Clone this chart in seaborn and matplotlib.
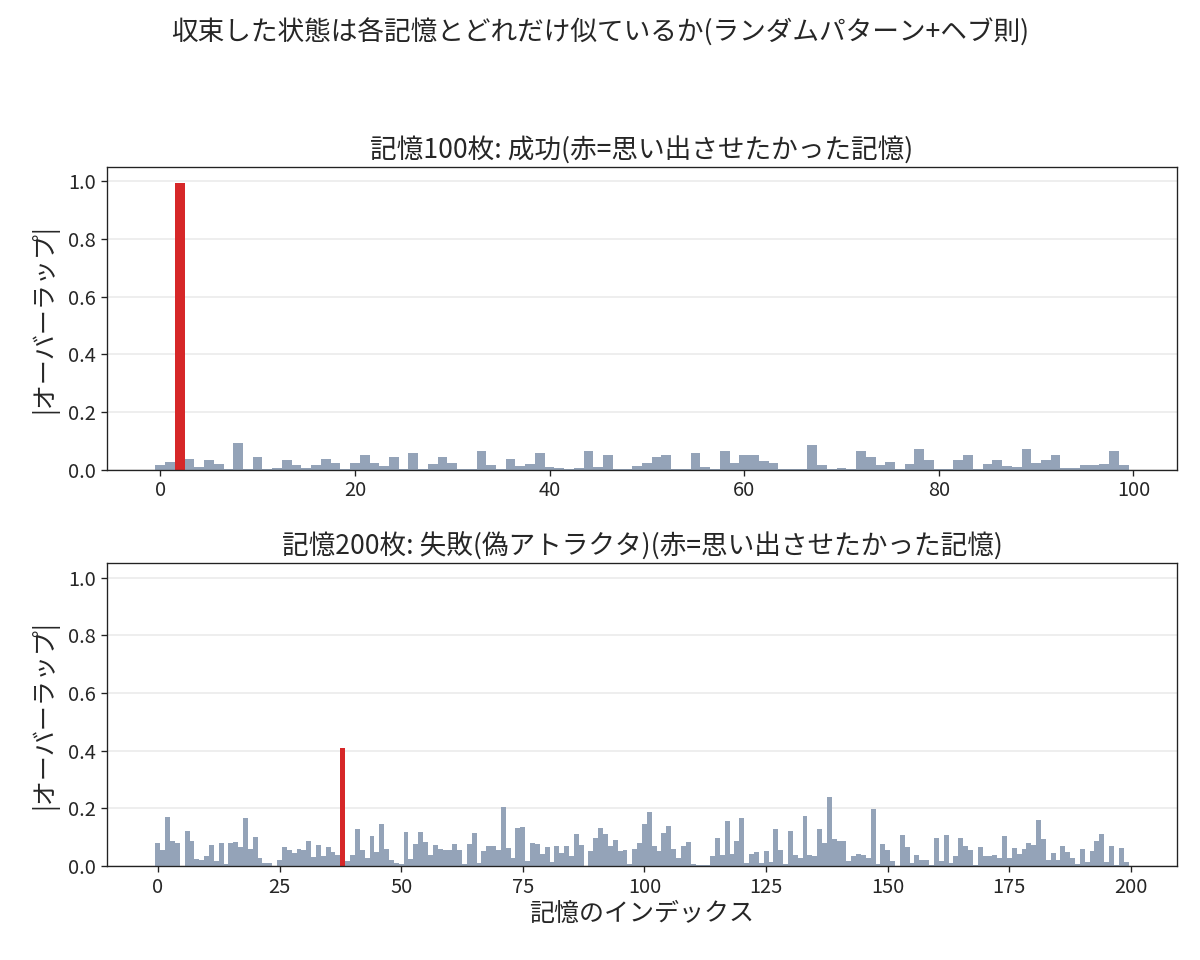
import numpy as np
import pandas as pd
import matplotlib
matplotlib.use("Agg")
import matplotlib.pyplot as plt
import seaborn as sns

# overlaps (100 memories, target index 2)
overlap_100 = [
    0.016, 0.028, 0.993, 0.038, 0.010, 0.035, 0.021, 0.003, 0.091, 0.001,
    0.042, 0.003, 0.007, 0.035, 0.017, 0.007, 0.017, 0.038, 0.024, 0.003,
    0.024, 0.049, 0.024, 0.014, 0.045, 0.001, 0.059, 0.003, 0.021, 0.042,
    0.024, 0.001, 0.003, 0.063, 0.017, 0.001, 0.038, 0.014, 0.021, 0.059,
    0.010, 0.007, 0.001, 0.007, 0.066, 0.010, 0.052, 0.001, 0.003, 0.014,
    0.024, 0.042, 0.049, 0.001, 0.001, 0.056, 0.010, 0.001, 0.066, 0.024,
    0.052, 0.049, 0.031, 0.024, 0.003, 0.003, 0.003, 0.084, 0.016, 0.001,
    0.007, 0.003, 0.066, 0.045, 0.017, 0.028, 0.003, 0.021, 0.073, 0.035,
    0.001, 0.003, 0.035, 0.049, 0.001, 0.021, 0.035, 0.014, 0.010, 0.070,
    0.024, 0.035, 0.052, 0.007, 0.007, 0.017, 0.017, 0.021, 0.066, 0.017,
]
target_100 = 2

# overlaps (200 memories, target index 38)
overlap_200 = [
    0.080, 0.054, 0.170, 0.087, 0.078, 0.001, 0.122, 0.087, 0.024, 0.021,
    0.035, 0.073, 0.017, 0.080, 0.007, 0.080, 0.083, 0.066, 0.167, 0.059,
    0.101, 0.028, 0.010, 0.010, 0.001, 0.021, 0.066, 0.056, 0.045, 0.059,
    0.056, 0.087, 0.031, 0.073, 0.035, 0.066, 0.049, 0.038, 0.410, 0.017,
    0.038, 0.128, 0.056, 0.028, 0.104, 0.049, 0.146, 0.059, 0.021, 0.010,
    0.007, 0.118, 0.024, 0.076, 0.118, 0.083, 0.038, 0.073, 0.059, 0.056,
    0.056, 0.076, 0.056, 0.007, 0.076, 0.115, 0.010, 0.052, 0.069, 0.069,
    0.056, 0.205, 0.063, 0.028, 0.132, 0.135, 0.017, 0.080, 0.076, 0.042,
    0.066, 0.014, 0.069, 0.045, 0.069, 0.035, 0.111, 0.073, 0.001, 0.052,
    0.097, 0.132, 0.111, 0.069, 0.090, 0.052, 0.056, 0.007, 0.059, 0.080,
    0.146, 0.188, 0.069, 0.052, 0.115, 0.139, 0.059, 0.028, 0.069, 0.083,
    0.007, 0.003, 0.003, 0.003, 0.035, 0.097, 0.038, 0.156, 0.042, 0.087,
    0.167, 0.010, 0.042, 0.049, 0.010, 0.052, 0.014, 0.128, 0.056, 0.007,
    0.122, 0.038, 0.028, 0.174, 0.038, 0.035, 0.128, 0.080, 0.240, 0.094,
    0.087, 0.087, 0.017, 0.035, 0.042, 0.038, 0.028, 0.198, 0.007, 0.076,
    0.056, 0.017, 0.001, 0.108, 0.066, 0.010, 0.038, 0.021, 0.021, 0.003,
    0.097, 0.017, 0.108, 0.010, 0.035, 0.097, 0.069, 0.056, 0.003, 0.066,
    0.035, 0.035, 0.038, 0.028, 0.104, 0.028, 0.063, 0.042, 0.059, 0.080,
    0.073, 0.160, 0.094, 0.021, 0.045, 0.021, 0.069, 0.049, 0.028, 0.007,
    0.059, 0.014, 0.052, 0.087, 0.111, 0.014, 0.069, 0.003, 0.063, 0.014,
]
target_200 = 38

titles = [
    "記憶100枚: 成功(赤=思い出させたかった記憶)",
    "記憶200枚: 失敗(偽アトラクタ)(赤=思い出させたかった記憶)",
]
suptitle = "収束した状態は各記憶とどれだけ似ているか(ランダムパターン+ヘブ則)"
ylabel = "|オーバーラップ|"
xlabel = "記憶のインデックス"

GRAY = "#94a3b8"
RED = "#d62728"

sns.set_style("white")
plt.rcParams['font.family'] = ['Noto Sans CJK JP', 'DejaVu Sans']

fig, axes = plt.subplots(2, 1, figsize=(10, 8), dpi=120)
fig.subplots_adjust(left=0.089, right=0.981, top=0.826, bottom=0.098, hspace=0.31)

paneles = [
    (overlap_100, target_100, [0, 20, 40, 60, 80, 100]),
    (overlap_200, target_200, [0, 25, 50, 75, 100, 125, 150, 175, 200]),
]

for ax, (vals, tgt, ticks), titulo in zip(axes, paneles, titles):
    df = pd.DataFrame({"idx": np.arange(len(vals)), "overlap": vals})
    df["target"] = df["idx"] == tgt
    sns.barplot(data=df, x="idx", y="overlap", hue="target", native_scale=True,
                palette={False: GRAY, True: RED}, width=1.0, saturation=1,
                linewidth=0, legend=False, ax=ax, dodge=False)
    n = len(vals)
    ax.set_xlim(-0.5 - 0.05 * n, n - 0.5 + 0.05 * n)
    ax.set_ylim(0, 1.05)
    ax.set_xticks(ticks)
    ax.set_xticklabels([str(t) for t in ticks])
    ax.set_yticks([0.0, 0.2, 0.4, 0.6, 0.8, 1.0])
    ax.set_yticklabels(["0.0", "0.2", "0.4", "0.6", "0.8", "1.0"])
    ax.grid(axis="y", color="#ebebeb", linewidth=1)
    ax.set_axisbelow(True)
    ax.tick_params(axis="both", labelsize=12, length=3.5, width=0.8,
                   bottom=True, left=True, color="#222222", pad=3)
    for sp in ax.spines.values():
        sp.set_visible(True)
        sp.set_color("#222222")
        sp.set_linewidth(0.8)
    ax.set_title(titulo, fontsize=16, pad=5)
    ax.set_ylabel(ylabel, fontsize=15, labelpad=6)
    ax.set_xlabel("")

axes[1].set_xlabel(xlabel, fontsize=15, labelpad=2)
fig.suptitle(suptitle, fontsize=16, y=1 - 33 / 960, va="center")

plt.savefig("out.png", dpi=120)
plt.close()
